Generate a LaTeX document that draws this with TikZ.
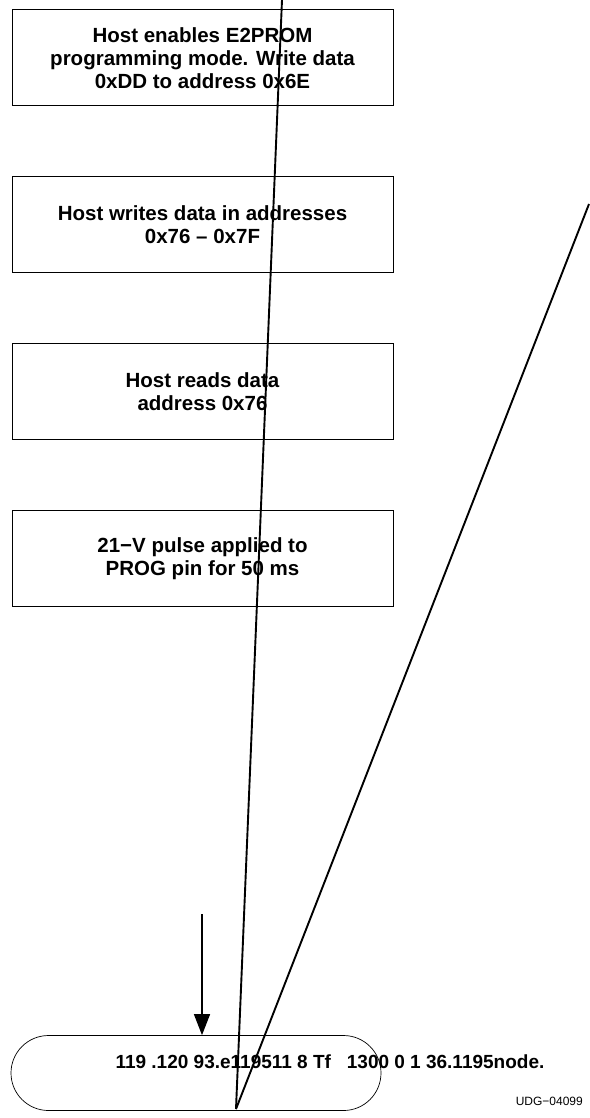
\documentclass[tikz,border=0pt]{standalone}
\usepackage{fontspec}
\setmainfont{Liberation Sans}
\usepackage{tikz}
\usetikzlibrary{arrows.meta,shapes.misc,positioning}

\begin{document}
\begin{tikzpicture}[
  x=1pt, y=-1pt,
  stepbox/.style={rectangle, draw, line width=1pt, minimum width=381pt, minimum height=96pt,
    align=center, font=\fontsize{20.5}{23}\selectfont\bfseries, inner sep=0pt},
  endcap/.style={rounded rectangle, draw, line width=0.7pt, minimum width=370pt, minimum height=75pt, inner sep=0pt},
  endtext/.style={font=\fontsize{19}{23}\selectfont\bfseries, inner sep=0pt},
  tag/.style={font=\fontsize{12}{14}\selectfont, inner sep=0pt, anchor=east},
  stroke/.style={line width=1.9pt}
]
  \useasboundingbox (0,0) rectangle (589,1118);
  \node[stepbox] (enable) at (202.5, 58)  {Host enables E2PROM\\programming mode. Write data\\0xDD to address 0x6E};
  \node[stepbox] (write)  at (202.5, 224.5) {Host writes data in addresses\\0x76 -- 0x7F};
  \node[stepbox] (read)   at (202.5, 391.5) {Host reads data\\address 0x76};
  \node[stepbox] (pulse)  at (202.5, 558.5) {21−V pulse applied to\\PROG pin for 50 ms};
  \node[endcap] (done) at (196, 1073) {};
  \node[endtext] (donetext) at (330, 1062) {119 .120 93.e119511 8 Tf\ \ \ 1300 0 1 36.1195node.};
  \node[tag] (udg) at (583, 1101) {UDG−04099};
  \coordinate (feedtop) at (202, 914);
  \coordinate (topA) at (282, 0);
  \coordinate (topB) at (589, 204);
  \coordinate (meet) at (236, 1109);
  \draw[line width=1.3pt, -{Triangle[length=21pt,width=16pt]}] (feedtop) -- (feedtop |- done.north);
  \draw[stroke] (topA) -- (meet);
  \draw[stroke] (topB) -- (meet);
\end{tikzpicture}
\end{document}
